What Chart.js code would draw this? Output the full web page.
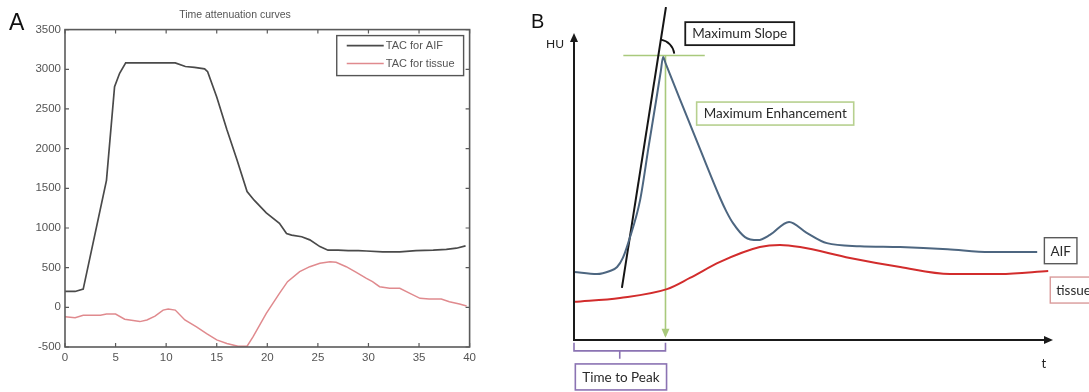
<!DOCTYPE html>
<html><head><meta charset="utf-8">
<script src="https://cdn.jsdelivr.net/npm/chart.js@4.4.0/dist/chart.umd.min.js"></script>
<style>
html,body{margin:0;padding:0;background:#fff;width:1089px;height:392px;overflow:hidden}
#wa{position:absolute;left:0;top:0;width:480px;height:392px}
#wb{position:absolute;left:520px;top:0;width:569px;height:392px}
</style></head><body>
<div id="wa"><canvas id="ca"></canvas></div>
<div id="wb"><canvas id="cb"></canvas></div>
<script>
// ---------- Panel A: measured time attenuation curves ----------
const aifTime = [0,1,1.8,4.1,4.9,5.4,6,7,8,9,10,10.9,11.9,12.8,13.8,14.1,15,16,17,18,18.7,19.9,21.2,21.9,22.4,23.4,24.2,25.2,26,27,28,29,29.8,31.4,33.1,34.7,36.4,37.7,38.7,39.6];
const aifHU   = [200,200,230,1600,2780,2950,3080,3080,3080,3080,3080,3080,3035,3025,3005,2970,2650,2240,1860,1460,1350,1190,1060,930,910,890,850,765,720,720,715,715,710,700,700,715,720,730,745,775];
const tissueTime = [0,1,1.8,3.5,4.1,5,5.9,7.4,8.1,8.9,9.7,10.2,10.9,11.85,13,14,15,16,17.1,18,18.6,19.9,21.2,22,23.2,24.2,25.2,26.2,26.8,27.8,28.8,29.8,30.4,31.1,32.1,33.1,34.1,35.1,36,37.2,38,39,39.7];
const tissueHU   = [-120,-130,-100,-100,-85,-85,-150,-180,-160,-110,-35,-20,-35,-160,-245,-330,-410,-455,-490,-490,-370,-75,176,323,450,512,555,575,567,512,441,365,323,260,240,240,176,113,105,105,71,42,17];
const xTicksA = [0,5,10,15,20,25,30,35,40];
const yTicksA = [-500,0,500,1000,1500,2000,2500,3000,3500];
const seriesNamesA = ['TAC for AIF','TAC for tissue'];
const titleA = 'Time attenuation curves';

// ---------- Panel B: schematic curves (arbitrary units) ----------
const bAifT  = [0,4.8,7.5,9.0,10.2,11.5,13.8,15.6,17.1,18.1,18.6,19.1,20.0,22.1,26.3,30.5,31.8,33.2,35.7,38.4,40.9,44.9,48.5,52.8,59.7,68.1,78,86.8,96.7];
const bAifHU = [22.5,21.8,22.8,24.1,27.1,33,46.2,64.1,78.7,88.6,93.5,91.5,87.9,79.6,63.1,46.9,42.5,38.6,34,33,34.7,39,35.5,32,31,30.7,30,29.1,29.1];
const bTisT  = [0,9.6,19.4,24.2,30.5,38.8,43,47.2,57.6,68.1,78.5,88.9,99];
const bTisHU = [12.6,13.9,16.8,20.5,25.8,30.7,31.4,30.7,27.1,24.1,21.8,21.8,22.8];
const bSlopeT  = [10,19.2];
const bSlopeHU = [17.2,110];
const bPeakT   = [10.3,27.3];
const bPeakHU  = [94,94];
const bTtpT    = [19.1,19.1];
const bTtpHU   = [94,1.4];

const pts = (xs, ys) => xs.map((x,i)=>({x:x, y:ys[i]}));

// ---------- Panel A chart ----------
const frameA = {
  id:'frameA',
  afterDatasetsDraw(chart){
    const {ctx, chartArea:a, scales:{x,y}} = chart;
    ctx.save();
    ctx.strokeStyle = '#5a5a5a';
    ctx.lineWidth = 1.6;
    ctx.strokeRect(a.left, a.top, a.right-a.left, a.bottom-a.top);
    ctx.lineWidth = 1.2;
    ctx.beginPath();
    xTicksA.forEach(v=>{
      const px = x.getPixelForValue(v);
      ctx.moveTo(px,a.bottom); ctx.lineTo(px,a.bottom-4);
      ctx.moveTo(px,a.top); ctx.lineTo(px,a.top+4);
    });
    yTicksA.forEach(v=>{
      const py = y.getPixelForValue(v);
      ctx.moveTo(a.left,py); ctx.lineTo(a.left+4,py);
      ctx.moveTo(a.right,py); ctx.lineTo(a.right-4,py);
    });
    ctx.stroke();
    // legend
    ctx.font = '11px "Liberation Sans", Arial, sans-serif';
    const tw = Math.max(...seriesNamesA.map(s=>ctx.measureText(s).width));
    const bw = 10+37+3+tw+8, bh = 40;
    const bx = a.right-6-bw, by = a.top+6;
    ctx.fillStyle='#fff';
    ctx.fillRect(bx,by,bw,bh);
    ctx.strokeStyle='#555'; ctx.lineWidth=1.4;
    ctx.strokeRect(bx,by,bw,bh);
    chart.data.datasets.forEach((d,i)=>{
      const ly = by + 10 + i*18;
      ctx.strokeStyle = d.borderColor; ctx.lineWidth = d.borderWidth;
      ctx.beginPath(); ctx.moveTo(bx+10,ly); ctx.lineTo(bx+47,ly); ctx.stroke();
      ctx.fillStyle='#555'; ctx.textBaseline='middle'; ctx.textAlign='left';
      ctx.fillText(d.label, bx+49, ly);
    });
    // panel letter
    ctx.fillStyle='#111';
    ctx.font = '23px "Liberation Sans", Arial, sans-serif';
    ctx.textAlign='left'; ctx.textBaseline='alphabetic';
    ctx.fillText('A', 9, 30);
    ctx.restore();
  }
};

const tickFontA = {family:'"Liberation Sans", Arial, sans-serif', size:11.5};
new Chart(document.getElementById('ca'), {
  type:'line',
  data:{datasets:[
    {label:seriesNamesA[0], data:pts(aifTime,aifHU), borderColor:'#4a4a4a', borderWidth:1.7, pointRadius:0, tension:0},
    {label:seriesNamesA[1], data:pts(tissueTime,tissueHU), borderColor:'#e08a8e', borderWidth:1.5, pointRadius:0, tension:0}
  ]},
  options:{
    responsive:true, maintainAspectRatio:false, animation:false,
    layout:{padding:{left:0,right:10,top:0,bottom:0}},
    plugins:{
      legend:{display:false}, tooltip:{enabled:false},
      title:{display:true, text:titleA, color:'#555', font:{family:'"Liberation Sans", Arial, sans-serif', size:10.5, weight:'normal'}, padding:{top:9,bottom:8}}
    },
    scales:{
      x:{type:'linear', min:0, max:40,
         afterBuildTicks:s=>{s.ticks = xTicksA.map(v=>({value:v}));},
         afterFit:s=>{s.height=45;},
         grid:{display:false, drawTicks:false}, border:{display:false},
         ticks:{padding:4, color:'#555', maxRotation:0, autoSkip:false, font:tickFontA, callback:v=>String(v)}},
      y:{type:'linear', min:-500, max:3500,
         afterBuildTicks:s=>{s.ticks = yTicksA.map(v=>({value:v}));},
         afterFit:s=>{s.width=65;},
         grid:{display:false, drawTicks:false}, border:{display:false},
         ticks:{padding:4, color:'#555', autoSkip:false, font:tickFontA, callback:v=>String(v)}}
    }
  },
  plugins:[frameA]
});

// ---------- Panel B chart ----------
const FONT_B = '"Lato", "Open Sans", sans-serif';
const annotB = {
  id:'annotB',
  afterDatasetsDraw(chart){
    const {ctx, scales:{x,y}} = chart;
    const X = v=>x.getPixelForValue(v), Y = v=>y.getPixelForValue(v);
    ctx.save();
    // axes with arrows
    const x0 = X(0), y0 = Y(0), yTop = Y(101.4), xEnd = X(100);
    ctx.strokeStyle='#1a1a1a'; ctx.lineWidth=2;
    ctx.beginPath(); ctx.moveTo(x0, y0+1); ctx.lineTo(x0, yTop+5); ctx.stroke();
    ctx.beginPath(); ctx.moveTo(x0-1, y0); ctx.lineTo(xEnd-6, y0); ctx.stroke();
    ctx.fillStyle='#1a1a1a';
    ctx.beginPath(); ctx.moveTo(x0, yTop); ctx.lineTo(x0-4, yTop+9); ctx.lineTo(x0+4, yTop+9); ctx.closePath(); ctx.fill();
    ctx.beginPath(); ctx.moveTo(xEnd, y0); ctx.lineTo(xEnd-9, y0-4); ctx.lineTo(xEnd-9, y0+4); ctx.closePath(); ctx.fill();
    // green arrowhead (time to peak)
    const gx = X(bTtpT[1]), gy = Y(bTtpHU[1]);
    ctx.fillStyle='#a9c97c';
    ctx.beginPath(); ctx.moveTo(gx, gy+2); ctx.lineTo(gx-4, gy-7); ctx.lineTo(gx+4, gy-7); ctx.closePath(); ctx.fill();
    // slope angle arc
    const ix = bSlopeT[0] + (bPeakHU[0]-bSlopeHU[0])/(bSlopeHU[1]-bSlopeHU[0])*(bSlopeT[1]-bSlopeT[0]);
    const cx = X(ix), cy = Y(bPeakHU[0]);
    const ang = Math.atan2(Y(bSlopeHU[1])-Y(bSlopeHU[0]), X(bSlopeT[1])-X(bSlopeT[0]));
    ctx.strokeStyle='#111'; ctx.lineWidth=1.8;
    ctx.beginPath(); ctx.arc(cx, cy, 16, ang, -0.12); ctx.stroke();
    // labels
    ctx.fillStyle='#222'; ctx.textBaseline='middle'; ctx.textAlign='center';
    ctx.font = '12px '+FONT_B;
    ctx.fillText('HU', x0-19, Y(97.6));
    ctx.font = '13px '+FONT_B;
    ctx.fillText('t', X(98.1), Y(-8));
    // boxes
    const box = (text, tc, hc, border, lw, padX, h) => {
      ctx.font = '13.5px '+FONT_B;
      const w = ctx.measureText(text).width + 2*padX;
      const bx = X(tc) - w/2, by = Y(hc) - h/2;
      ctx.strokeStyle = border; ctx.lineWidth = lw;
      ctx.strokeRect(bx, by, w, h);
      ctx.fillStyle='#2a2a2a'; ctx.textAlign='center'; ctx.textBaseline='middle';
      ctx.fillText(text, X(tc), Y(hc)+0.5);
    };
    box('Maximum Slope', 34.6, 101.2, '#1a1a1a', 1.8, 7, 23);
    box('Maximum Enhancement', 42.0, 74.8, '#b7d08f', 1.6, 7, 23);
    box('AIF', 101.6, 29.5, '#5a5a5a', 1.4, 6, 26);
    box('tissue', 104.3, 16.5, '#d99a9a', 1.4, 6, 26);
    box('Time to Peak', 9.8, -12.2, '#8b73b3', 1.6, 7, 26);
    // bracket
    const bl = X(0), br = X(bTtpT[0]), bt = Y(-0.9), bb = Y(-3.6), bm = X(bTtpT[0]/2);
    ctx.strokeStyle='#8b73b3'; ctx.lineWidth=1.6;
    ctx.beginPath();
    ctx.moveTo(bl, bt); ctx.lineTo(bl, bb); ctx.lineTo(br, bb); ctx.lineTo(br, bt);
    ctx.moveTo(bm, bb); ctx.lineTo(bm, Y(-6.2));
    ctx.stroke();
    ctx.restore();
  }
};
const letterB = {
  id:'letterB',
  afterDraw(chart){
    const ctx = chart.ctx; ctx.save();
    ctx.fillStyle='#111'; ctx.font='20px "Liberation Sans", Arial, sans-serif';
    ctx.textAlign='left'; ctx.textBaseline='alphabetic';
    ctx.fillText('B', 11, 28);
    ctx.restore();
  }
};

new Chart(document.getElementById('cb'), {
  type:'line',
  data:{datasets:[
    {label:'AIF', data:pts(bAifT,bAifHU), borderColor:'#4d6680', borderWidth:2, pointRadius:0, cubicInterpolationMode:'monotone'},
    {label:'tissue', data:pts(bTisT,bTisHU), borderColor:'#d22c2c', borderWidth:2, pointRadius:0, cubicInterpolationMode:'monotone'},
    {label:'Maximum Slope', data:pts(bSlopeT,bSlopeHU), borderColor:'#151515', borderWidth:2, pointRadius:0, tension:0},
    {label:'Maximum Enhancement', data:pts(bPeakT,bPeakHU), borderColor:'#a9c97c', borderWidth:1.6, pointRadius:0, tension:0},
    {label:'Time to Peak', data:pts(bTtpT,bTtpHU), borderColor:'#a9c97c', borderWidth:1.6, pointRadius:0, tension:0}
  ]},
  options:{
    responsive:true, maintainAspectRatio:false, animation:false,
    layout:{padding:{left:54,right:36,top:7,bottom:52}},
    plugins:{legend:{display:false}, tooltip:{enabled:false}, title:{display:false}},
    scales:{
      x:{type:'linear', display:false, min:0, max:100},
      y:{type:'linear', display:false, min:0, max:110}
    }
  },
  plugins:[annotB, letterB]
});
</script>
</body></html>
